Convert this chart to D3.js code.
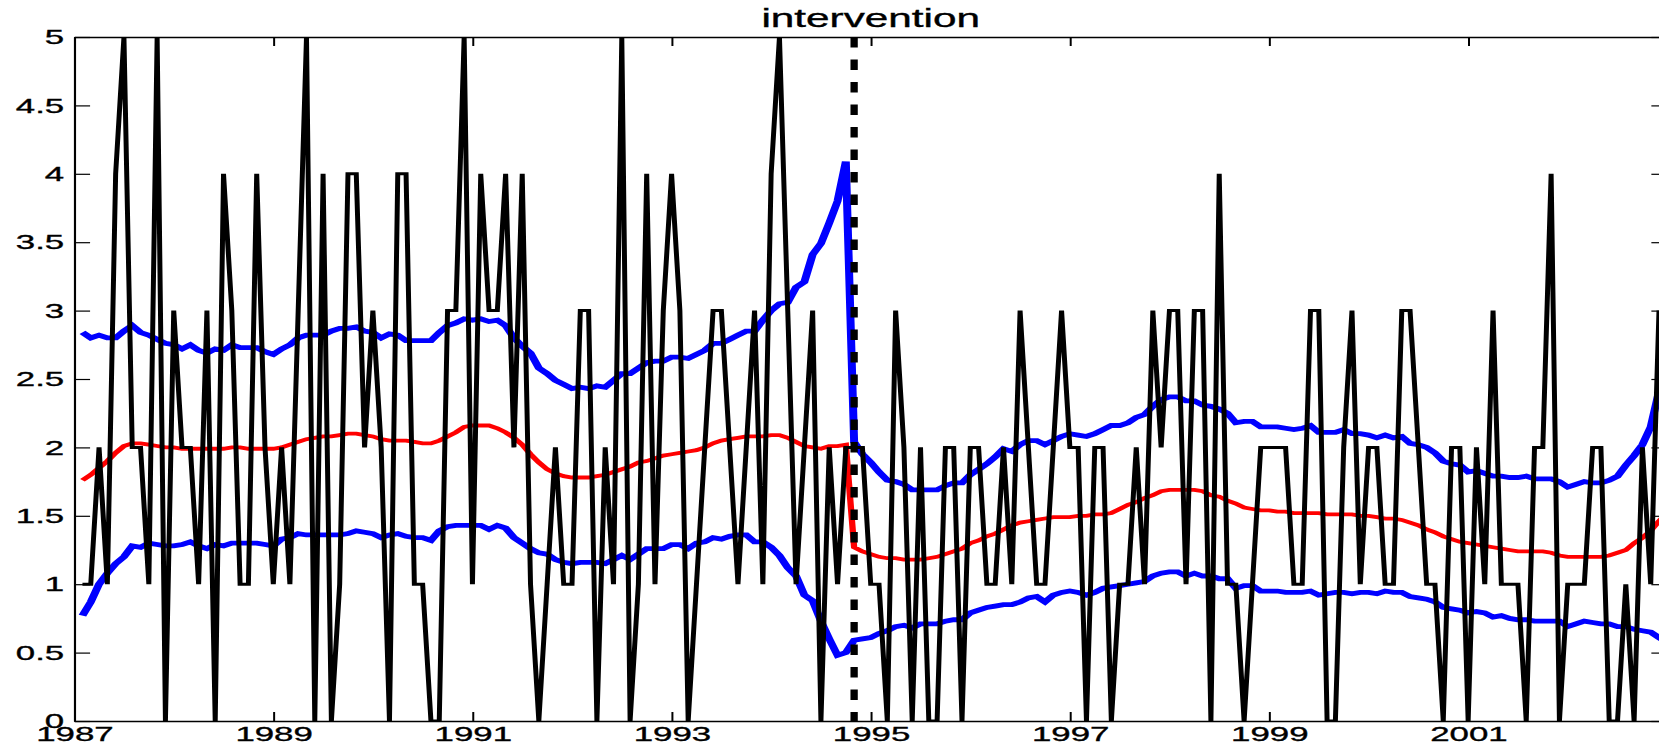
<!DOCTYPE html>
<html>
<head>
<meta charset="utf-8">
<script src="https://cdn.jsdelivr.net/npm/d3@7/dist/d3.min.js"></script>
<style>
  html, body { margin: 0; padding: 0; background: #fff; overflow: hidden; }
</style>
</head>
<body>
<svg id="chart"></svg>
<script>
// monthly counts, Jan 1987 .. Dec 2002
const counts = [
  1,1,2,1,4,5,2,2,1,5,0,3,
  2,2,1,3,0,4,3,1,1,4,2,1,
  2,1,3,5,0,4,0,1,4,4,2,3,
  2,0,4,4,1,1,0,0,3,3,5,1,
  4,3,3,4,2,4,1,0,1,2,1,1,
  3,3,0,2,1,5,0,1,4,1,3,4,
  3,0,1,2,3,3,2,1,2,3,1,4,
  5,3,1,2,3,0,2,1,2,2,2,1,
  1,0,3,2,0,2,0,0,2,2,0,2,
  2,1,1,2,1,3,2,1,1,2,3,2,
  2,0,2,2,0,1,1,2,1,3,2,3,
  3,1,3,3,0,4,1,1,0,1,2,2,
  2,2,1,1,3,3,0,0,2,3,1,2,
  2,1,1,3,3,2,1,1,0,2,2,0,
  2,1,3,1,1,1,0,2,2,4,0,1,
  1,1,2,2,0,0,1,0,2,1,3,2
];

// smoothed level
const meanLevel = [
  1.76,1.80,1.85,1.90,1.96,2.01,2.03,2.03,2.02,2.01,2.00,2.00,
  1.99,1.99,1.99,1.99,1.99,1.99,2.00,2.00,1.99,1.99,1.99,1.99,
  2.00,2.02,2.04,2.06,2.07,2.08,2.08,2.09,2.10,2.10,2.09,2.08,
  2.06,2.05,2.05,2.05,2.04,2.03,2.03,2.05,2.08,2.11,2.15,2.16,
  2.16,2.16,2.14,2.11,2.07,2.02,1.95,1.89,1.84,1.81,1.79,1.78,
  1.78,1.78,1.79,1.80,1.82,1.84,1.86,1.89,1.90,1.92,1.94,1.95,
  1.96,1.97,1.98,2.00,2.03,2.05,2.06,2.07,2.08,2.08,2.08,2.09,
  2.09,2.07,2.04,2.01,2.00,1.99,2.01,2.01,2.02,1.27,1.24,1.22,
  1.20,1.19,1.19,1.18,1.18,1.18,1.19,1.20,1.22,1.24,1.26,1.30,
  1.32,1.35,1.37,1.40,1.43,1.45,1.46,1.47,1.48,1.49,1.49,1.49,
  1.50,1.50,1.51,1.51,1.52,1.55,1.58,1.60,1.63,1.65,1.68,1.69,
  1.69,1.69,1.69,1.68,1.65,1.64,1.61,1.59,1.56,1.55,1.54,1.54,
  1.53,1.53,1.52,1.52,1.52,1.52,1.51,1.51,1.51,1.51,1.50,1.50,
  1.49,1.48,1.48,1.47,1.45,1.43,1.40,1.38,1.35,1.33,1.31,1.30,
  1.29,1.28,1.27,1.26,1.25,1.24,1.24,1.24,1.24,1.23,1.21,1.20,
  1.20,1.20,1.20,1.20,1.21,1.23,1.25,1.30,1.34,1.39,1.46,1.52
];

// upper and lower bands
const upperBand = [
  2.84,2.80,2.82,2.80,2.80,2.85,2.89,2.84,2.82,2.79,2.76,2.75,
  2.72,2.75,2.71,2.69,2.72,2.71,2.75,2.73,2.73,2.73,2.70,2.68,
  2.72,2.75,2.80,2.82,2.82,2.82,2.85,2.87,2.87,2.88,2.85,2.84,
  2.80,2.83,2.82,2.78,2.78,2.78,2.78,2.84,2.89,2.91,2.94,2.93,
  2.94,2.92,2.93,2.89,2.80,2.74,2.69,2.58,2.54,2.49,2.46,2.43,
  2.44,2.43,2.45,2.44,2.49,2.54,2.54,2.58,2.62,2.63,2.63,2.66,
  2.66,2.65,2.68,2.71,2.76,2.76,2.79,2.82,2.85,2.85,2.93,3.00,
  3.05,3.06,3.17,3.21,3.41,3.49,3.64,3.80,4.09,2.04,1.95,1.89,
  1.82,1.76,1.75,1.73,1.69,1.69,1.69,1.69,1.72,1.74,1.74,1.80,
  1.84,1.88,1.93,1.99,1.97,2.02,2.05,2.05,2.02,2.05,2.08,2.10,
  2.09,2.08,2.10,2.13,2.16,2.16,2.18,2.22,2.24,2.30,2.35,2.37,
  2.37,2.34,2.34,2.31,2.30,2.28,2.25,2.18,2.19,2.19,2.15,2.15,
  2.15,2.14,2.13,2.14,2.16,2.11,2.11,2.11,2.13,2.10,2.10,2.09,
  2.07,2.09,2.07,2.08,2.03,2.02,2.00,1.96,1.90,1.88,1.87,1.82,
  1.83,1.81,1.79,1.79,1.78,1.78,1.79,1.77,1.77,1.77,1.75,1.71,
  1.73,1.75,1.74,1.74,1.76,1.79,1.87,1.94,2.02,2.15,2.41,2.70
];

const lowerBand = [
  0.77,0.87,1.00,1.08,1.15,1.20,1.28,1.27,1.30,1.29,1.28,1.28,
  1.29,1.31,1.28,1.26,1.29,1.28,1.30,1.30,1.30,1.30,1.29,1.28,
  1.33,1.34,1.37,1.36,1.36,1.36,1.36,1.36,1.37,1.39,1.38,1.37,
  1.34,1.36,1.37,1.35,1.34,1.34,1.32,1.39,1.42,1.43,1.43,1.43,
  1.43,1.40,1.43,1.41,1.34,1.30,1.26,1.23,1.22,1.18,1.16,1.15,
  1.16,1.16,1.16,1.15,1.18,1.21,1.18,1.22,1.26,1.26,1.26,1.29,
  1.29,1.26,1.30,1.31,1.34,1.33,1.35,1.36,1.36,1.31,1.31,1.27,
  1.21,1.12,1.06,0.92,0.88,0.73,0.60,0.48,0.50,0.59,0.60,0.61,
  0.64,0.66,0.69,0.70,0.68,0.71,0.71,0.71,0.73,0.74,0.74,0.79,
  0.81,0.83,0.84,0.85,0.85,0.87,0.90,0.91,0.87,0.92,0.94,0.95,
  0.94,0.92,0.94,0.97,0.98,0.99,1.00,1.01,1.02,1.06,1.08,1.09,
  1.09,1.06,1.08,1.06,1.06,1.04,1.04,0.97,0.99,0.99,0.95,0.95,
  0.95,0.94,0.94,0.94,0.95,0.92,0.93,0.94,0.94,0.93,0.94,0.94,
  0.93,0.95,0.94,0.94,0.91,0.90,0.89,0.87,0.83,0.82,0.81,0.79,
  0.80,0.79,0.76,0.77,0.75,0.74,0.74,0.73,0.73,0.73,0.73,0.69,
  0.71,0.73,0.72,0.71,0.71,0.69,0.69,0.67,0.66,0.65,0.61,0.57
];

const startYear = 1987;
const xTicks = [1987, 1989, 1991, 1993, 1995, 1997, 1999, 2001];
const yTicks = [0, 0.5, 1, 1.5, 2, 2.5, 3, 3.5, 4, 4.5, 5];
const interventionYear = 1994 + 10 / 12;
const titleText = "intervention";

// time of each observation (end of month)
const months = counts.map((d, i) => startYear + (i + 1) / 12);

// the original figure is stretched sideways, so draw at 1000 wide and scale
const width = 1659, height = 749;
const sx = width / 1000;
const margin = { top: 37, right: 1005, bottom: 721, left: 44.7 };
const font = "'Liberation Sans', Arial, Helvetica, sans-serif";

const svg = d3.select("#chart")
  .attr("width", width)
  .attr("height", height);

const g = svg.append("g").attr("transform", `scale(${sx},1)`);

const x = d3.scaleLinear().domain([1987, 2003]).range([margin.left, margin.right]);
const y = d3.scaleLinear().domain([0, 5]).range([margin.bottom, margin.top]);

g.append("clipPath")
  .attr("id", "plot-clip")
  .append("rect")
  .attr("x", margin.left)
  .attr("y", margin.top)
  .attr("width", margin.right - margin.left)
  .attr("height", margin.bottom - margin.top);

const plot = g.append("g").attr("clip-path", "url(#plot-clip)");

const line = d3.line()
  .x((d, i) => x(months[i]))
  .y(d => y(d));

plot.append("path").datum(upperBand)
  .attr("d", line).attr("fill", "none")
  .attr("stroke", "#0000ff").attr("stroke-width", 4.8);

plot.append("path").datum(lowerBand)
  .attr("d", line).attr("fill", "none")
  .attr("stroke", "#0000ff").attr("stroke-width", 4.8);

plot.append("path").datum(meanLevel)
  .attr("d", line).attr("fill", "none")
  .attr("stroke", "#ff0000").attr("stroke-width", 3.8);

plot.append("path").datum(counts)
  .attr("d", line).attr("fill", "none")
  .attr("stroke", "#000").attr("stroke-width", 3);

// intervention marker
plot.append("line")
  .attr("x1", x(interventionYear)).attr("x2", x(interventionYear))
  .attr("y1", y(5)).attr("y2", y(0))
  .attr("stroke", "#000")
  .attr("stroke-width", 4.4)
  .attr("stroke-dasharray", "10.5,12");

// axes box with inward ticks
const styleAxis = sel => {
  sel.attr("font-size", 21).attr("font-family", font);
  sel.select(".domain").attr("stroke", "#000").attr("stroke-width", 1.3);
  sel.selectAll(".tick line").attr("stroke", "#000").attr("stroke-width", 1.2);
  sel.selectAll(".tick text").attr("fill", "#000")
    .attr("stroke", "#000").attr("stroke-width", 0.35);
};

g.append("g")
  .attr("transform", `translate(0,${margin.bottom})`)
  .call(d3.axisBottom(x).tickValues(xTicks).tickFormat(d3.format("d"))
    .tickSizeInner(-9).tickSizeOuter(0).tickPadding(5))
  .call(styleAxis);

g.append("g")
  .attr("transform", `translate(0,${margin.top})`)
  .call(d3.axisTop(x).tickValues(xTicks).tickFormat("")
    .tickSizeInner(-9).tickSizeOuter(0))
  .call(styleAxis);

g.append("g")
  .attr("transform", `translate(${margin.left},0)`)
  .call(d3.axisLeft(y).tickValues(yTicks).tickFormat(d => String(d))
    .tickSizeInner(-9.6).tickSizeOuter(0).tickPadding(6))
  .call(styleAxis);

g.append("g")
  .attr("transform", `translate(${margin.right},0)`)
  .call(d3.axisRight(y).tickValues(yTicks).tickFormat("")
    .tickSizeInner(-9.6).tickSizeOuter(0))
  .call(styleAxis);

g.append("text")
  .attr("x", (margin.left + margin.right) / 2)
  .attr("y", 27)
  .attr("text-anchor", "middle")
  .attr("font-family", font)
  .attr("font-size", 25.5)
  .attr("fill", "#000")
  .attr("stroke", "#000").attr("stroke-width", 0.35)
  .text(titleText);
</script>
</body>
</html>
